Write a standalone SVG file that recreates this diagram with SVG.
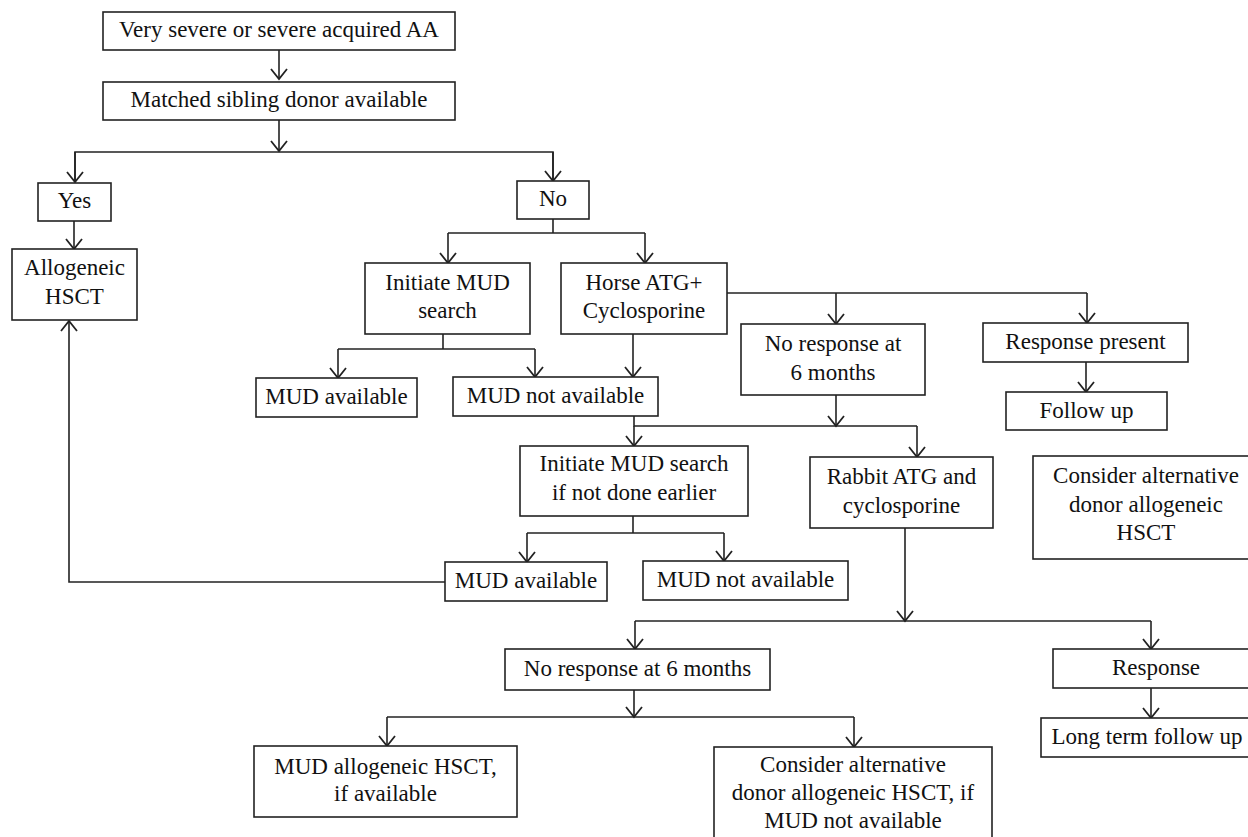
<svg xmlns="http://www.w3.org/2000/svg" width="1248" height="837" viewBox="0 0 1248 837">
<defs>
<style>
.b{fill:#fff;stroke:#222;stroke-width:1.6}
.t{font-family:"Liberation Serif","Times New Roman",serif;font-size:23px;fill:#111;text-anchor:middle}
.c{fill:none;stroke:#222;stroke-width:1.6}
.a{fill:none;stroke:#222;stroke-width:1.6;marker-end:url(#ah)}
</style>
<marker id="ah" markerUnits="userSpaceOnUse" markerWidth="24" markerHeight="24" viewBox="-12 -12 24 24" refX="0" refY="0" orient="auto">
<path d="M-10,-8 L0,0 L-10,8" fill="none" stroke="#222" stroke-width="1.8"/>
</marker>
</defs>
<rect width="1248" height="837" fill="#fff"/>
<g id="connectors">
<line class="a" x1="279" y1="50" x2="279" y2="79"/>
<line class="a" x1="279" y1="120" x2="279" y2="151"/>
<polyline class="c" points="75,182 75,152 553,152 553,181"/>
<line class="a" x1="75" y1="152" x2="75" y2="182"/>
<line class="a" x1="553" y1="152" x2="553" y2="181"/>
<line class="a" x1="74" y1="221" x2="74" y2="249"/>
<polyline class="c" points="553,219 553,233"/>
<polyline class="c" points="448,233 645,233"/>
<line class="a" x1="448" y1="233" x2="448" y2="263"/>
<line class="a" x1="645" y1="233" x2="645" y2="263"/>
<polyline class="c" points="727,293 1087,293"/>
<line class="a" x1="836" y1="293" x2="836" y2="324"/>
<line class="a" x1="1087" y1="293" x2="1087" y2="323"/>
<line class="a" x1="1086" y1="362" x2="1086" y2="392"/>
<polyline class="c" points="443,334 443,349"/>
<polyline class="c" points="338,349 535,349"/>
<line class="a" x1="338" y1="349" x2="338" y2="378"/>
<line class="a" x1="535" y1="349" x2="535" y2="377"/>
<line class="a" x1="633" y1="334" x2="633" y2="377"/>
<line class="a" x1="836" y1="395" x2="836" y2="426"/>
<polyline class="c" points="634,416 634,426 917,426"/>
<line class="a" x1="634" y1="426" x2="634" y2="446"/>
<line class="a" x1="917" y1="426" x2="917" y2="457"/>
<polyline class="c" points="633,516 633,533"/>
<polyline class="c" points="527,533 724,533"/>
<line class="a" x1="527" y1="533" x2="527" y2="562"/>
<line class="a" x1="724" y1="533" x2="724" y2="561"/>
<polyline class="a" points="445,582 69,582 69,321"/>
<line class="a" x1="905" y1="528" x2="905" y2="621"/>
<polyline class="c" points="635,621 1151,621"/>
<line class="a" x1="635" y1="621" x2="635" y2="649"/>
<line class="a" x1="1151" y1="621" x2="1151" y2="649"/>
<line class="a" x1="1151" y1="688" x2="1151" y2="718"/>
<line class="a" x1="634" y1="690" x2="634" y2="717"/>
<polyline class="c" points="387,717 854,717"/>
<line class="a" x1="387" y1="717" x2="387" y2="746"/>
<line class="a" x1="854" y1="717" x2="854" y2="747"/>
</g>
<g id="n1"><rect class="b" x="103" y="12" width="352" height="38"/><text class="t" x="279" y="37">Very severe or severe acquired AA</text></g>
<g id="n2"><rect class="b" x="103" y="82" width="352" height="38"/><text class="t" x="279" y="107">Matched sibling donor available</text></g>
<g id="yes"><rect class="b" x="38" y="183" width="73" height="38"/><text class="t" x="74.5" y="208">Yes</text></g>
<g id="no"><rect class="b" x="517" y="181" width="72" height="38"/><text class="t" x="553" y="206">No</text></g>
<g id="allo"><rect class="b" x="12" y="249" width="125" height="71"/><text class="t" x="74.5" y="275">Allogeneic</text><text class="t" x="74.5" y="304">HSCT</text></g>
<g id="initmud"><rect class="b" x="365" y="263" width="165" height="71"/><text class="t" x="447.5" y="290">Initiate MUD</text><text class="t" x="447.5" y="318">search</text></g>
<g id="horse"><rect class="b" x="561" y="263" width="166" height="71"/><text class="t" x="644" y="290">Horse ATG+</text><text class="t" x="644" y="318">Cyclosporine</text></g>
<g id="noresp1"><rect class="b" x="741" y="324" width="184" height="71"/><text class="t" x="833" y="351">No response at</text><text class="t" x="833" y="380">6 months</text></g>
<g id="resppresent"><rect class="b" x="983" y="323" width="205" height="39"/><text class="t" x="1085.5" y="349">Response present</text></g>
<g id="followup"><rect class="b" x="1006" y="392" width="161" height="38"/><text class="t" x="1086.5" y="418">Follow up</text></g>
<g id="altdonor1"><rect class="b" x="1033" y="456" width="230" height="103"/><text class="t" x="1146" y="483">Consider alternative</text><text class="t" x="1146" y="512">donor allogeneic</text><text class="t" x="1146" y="540">HSCT</text></g>
<g id="mudavail1"><rect class="b" x="256" y="378" width="161" height="39"/><text class="t" x="336.5" y="404">MUD available</text></g>
<g id="mudnot1"><rect class="b" x="453" y="377" width="205" height="39"/><text class="t" x="555.5" y="403">MUD not available</text></g>
<g id="initmud2"><rect class="b" x="520" y="446" width="228" height="70"/><text class="t" x="634" y="471">Initiate MUD search</text><text class="t" x="634" y="500">if not done earlier</text></g>
<g id="rabbit"><rect class="b" x="810" y="457" width="183" height="71"/><text class="t" x="901.5" y="484">Rabbit ATG and</text><text class="t" x="901.5" y="513">cyclosporine</text></g>
<g id="mudavail2"><rect class="b" x="445" y="562" width="162" height="39"/><text class="t" x="526" y="588">MUD available</text></g>
<g id="mudnot2"><rect class="b" x="643" y="561" width="205" height="39"/><text class="t" x="745.5" y="587">MUD not available</text></g>
<g id="noresp2"><rect class="b" x="505" y="649" width="265" height="41"/><text class="t" x="637.5" y="676">No response at 6 months</text></g>
<g id="response"><rect class="b" x="1053" y="649" width="210" height="39"/><text class="t" x="1156" y="675">Response</text></g>
<g id="longterm"><rect class="b" x="1041" y="718" width="220" height="39"/><text class="t" x="1147" y="744">Long term follow up</text></g>
<g id="mudallo"><rect class="b" x="254" y="746" width="263" height="71"/><text class="t" x="385.5" y="774">MUD allogeneic HSCT,</text><text class="t" x="385.5" y="801">if available</text></g>
<g id="altdonor2"><rect class="b" x="714" y="747" width="278" height="110"/><text class="t" x="853" y="772">Consider alternative</text><text class="t" x="853" y="800">donor allogeneic HSCT, if</text><text class="t" x="853" y="828">MUD not available</text></g>
</svg>
